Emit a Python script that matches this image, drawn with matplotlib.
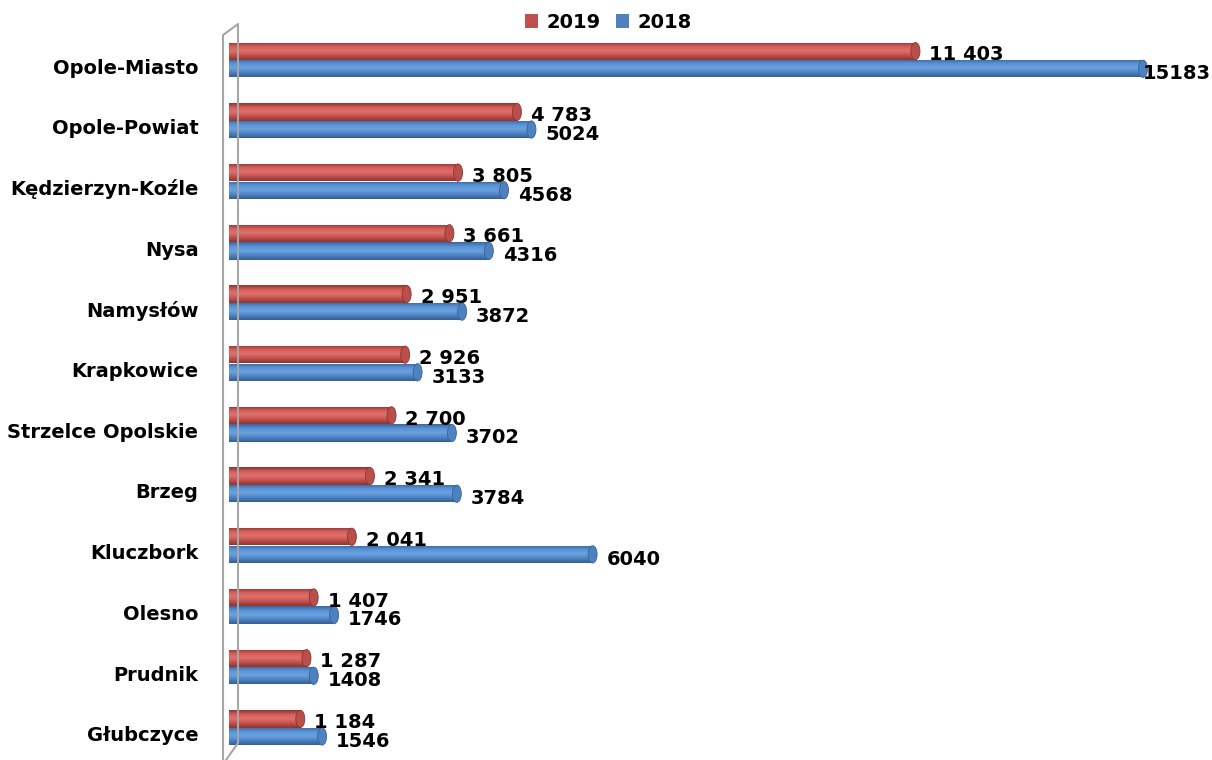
import numpy as np
import matplotlib
matplotlib.use("Agg")
import matplotlib.pyplot as plt
from matplotlib.colors import LinearSegmentedColormap
from matplotlib.patches import Ellipse
from matplotlib.lines import Line2D

# data
cats = ["Opole-Miasto", "Opole-Powiat", "Kędzierzyn-Koźle", "Nysa", "Namysłów",
        "Krapkowice", "Strzelce Opolskie", "Brzeg", "Kluczbork", "Olesno",
        "Prudnik", "Głubczyce"]
v2019 = [11403, 4783, 3805, 3661, 2951, 2926, 2700, 2341, 2041, 1407, 1287, 1184]
v2018 = [15183, 5024, 4568, 4316, 3872, 3133, 3702, 3784, 6040, 1746, 1408, 1546]
labels2019 = [f"{v:,}".replace(",", " ") for v in v2019]
labels2018 = [str(v) for v in v2018]

red = "#C0504D"
blue = "#4F81BD"
red_cm = LinearSegmentedColormap.from_list("r", ["#8E3532", "#D65F5B", "#E0706C", "#C24F4B", "#8A3431"])
blue_cm = LinearSegmentedColormap.from_list("b", ["#3A639A", "#5B95D8", "#6AA2E0", "#4C82C2", "#355D92"])

W, H = 1212, 760
fig = plt.figure(figsize=(W / 100, H / 100), dpi=100)
ax = fig.add_axes([229 / W, 0, (1205 - 229) / W, (760 - 30) / H])

y = np.arange(len(cats))
h = 0.285
xmax = (1205 - 229) / 0.0602
px = xmax / (1205 - 229)  # data units per pixel

def cyl_bars(vals, offs, cmap, color):
    bars = ax.barh(y + offs, vals, height=h, color=color, zorder=2)
    grad = np.linspace(0, 1, 64).reshape(-1, 1)
    for b, v, yy in zip(bars, vals, y + offs):
        im = ax.imshow(grad, extent=(0, v, yy + h / 2, yy - h / 2), cmap=cmap,
                       aspect="auto", zorder=3, interpolation="bicubic")
        im.set_clip_path(b)
        cap = Ellipse((v, yy), 9 * px, h, facecolor=cmap(0.15), edgecolor=cmap(0.0),
                      lw=0.6, zorder=4)
        ax.add_patch(cap)
    return bars

b19 = cyl_bars(v2019, -0.145, red_cm, red)
b18 = cyl_bars(v2018, 0.145, blue_cm, blue)

# value labels
fs = 14
vmax = max(v2018)
for v, t, yy in zip(v2019, labels2019, y - 0.145):
    ax.annotate(t, (v, yy + 0.06), xytext=(10, 0), textcoords="offset points",
                va="center", ha="left", fontsize=fs, fontweight="bold", zorder=5)
for v, t, yy in zip(v2018, labels2018, y + 0.145):
    off = 0 if v == vmax else 10
    ax.annotate(t, (v, yy + 0.08), xytext=(off, 0), textcoords="offset points",
                va="center", ha="left", fontsize=fs, fontweight="bold", zorder=5)

ax.set_xlim(0, xmax)
ax.set_ylim((760 - 60) / 60.7, (30 - 60) / 60.7)
ax.set_yticks(y + 0.1)
ax.set_yticklabels(cats, fontsize=fs, fontweight="bold")
ax.tick_params(axis="y", length=0, pad=22)
ax.set_xticks([])
for s in ax.spines.values():
    s.set_visible(False)

# back wall outline
def fl(pts):
    xs = [p[0] / W for p in pts]
    ys = [1 - p[1] / H for p in pts]
    fig.add_artist(Line2D(xs, ys, color="#A6A6A6", lw=1.5, zorder=1))

fl([(223, 760), (223, 35), (238, 24), (238, 743), (226, 760)])

ax.legend([b19, b18], ["2019", "2018"], loc="center", bbox_to_anchor=(608 / W, 1 - 22 / H),
          bbox_transform=fig.transFigure, ncol=2, frameon=False, handlelength=0.7,
          handleheight=0.7, handletextpad=0.4, columnspacing=0.8,
          prop={"size": fs, "weight": "bold"})

fig.savefig("out.png", dpi=100)
